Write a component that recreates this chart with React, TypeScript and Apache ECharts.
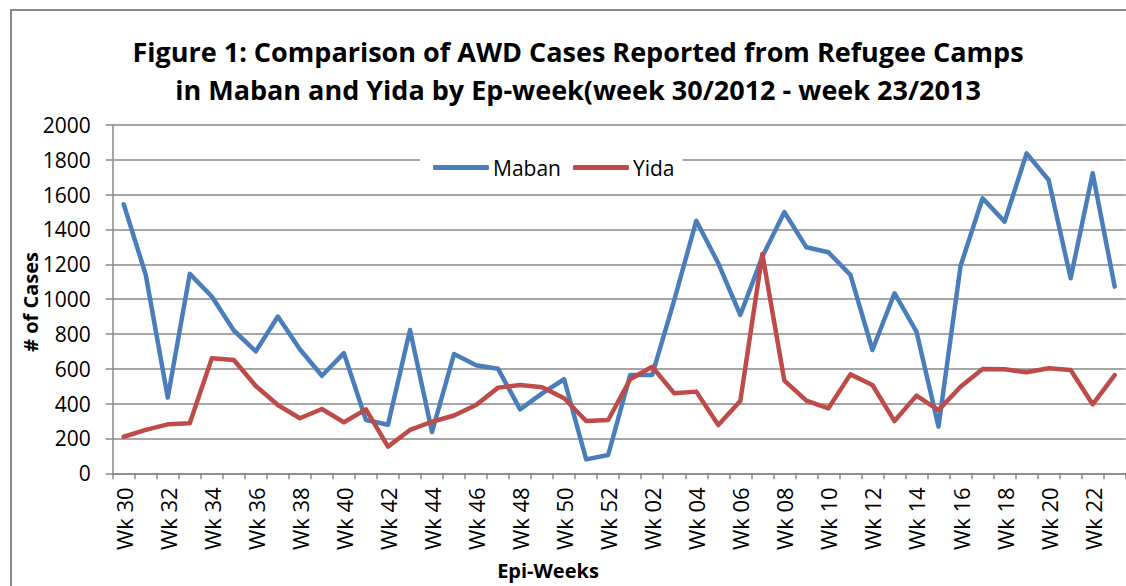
import React, { useEffect, useRef } from "react";
import * as echarts from "echarts";

const weeks2012 = ["30","31","32","33","34","35","36","37","38","39","40","41","42","43","44","45","46","47","48","49","50","51","52"];
const weeks2013 = ["01","02","03","04","05","06","07","08","09","10","11","12","13","14","15","16","17","18","19","20","21","22","23"];
const categories = [...weeks2012, ...weeks2013].map((w) => "Wk " + w);

const maban = [1545,1140,435,1145,1015,820,700,900,712,560,690,306,279,823,237,685,620,600,367,459,540,80,105,565,565,995,1450,1206,909,1244,1500,1298,1269,1139,708,1034,813,268,1190,1579,1445,1837,1684,1120,1723,1072];
const yida = [210,249,281,287,660,651,501,392,316,369,293,367,153,249,296,332,392,492,507,494,431,300,306,540,612,459,469,277,415,1259,532,417,373,568,507,300,446,363,497,599,597,580,603,593,396,564];

const titleText = "Figure 1: Comparison of AWD Cases Reported from Refugee Camps\nin Maban and Yida by Ep-week(week 30/2012 - week 23/2013";
const FONT = "'Open Sans', sans-serif";

export default function App() {
  const ref = useRef<HTMLDivElement>(null);
  useEffect(() => {
    if (!ref.current) return;
    const chart = echarts.init(ref.current, undefined, { renderer: "svg" });
    chart.setOption({
      animation: false,
      backgroundColor: "#ffffff",
      textStyle: { fontFamily: FONT },
      title: {
        text: titleText,
        left: 573,
        textAlign: "center",
        top: 27,
        textStyle: { fontFamily: FONT, fontSize: 27, fontWeight: "bold", color: "#000", lineHeight: 38 },
      },
      graphic: [
        { type: "rect", shape: { x: 11, y: 10, width: 1200, height: 700 }, style: { fill: "none", stroke: "#888888", lineWidth: 2 }, silent: true, z: -1 },
        { type: "text", x: 548, y: 570, style: { text: "Epi-Weeks", fontFamily: FONT, fontSize: 20, fontWeight: "bold", fill: "#000", align: "center", verticalAlign: "middle" } },
        { type: "text", x: 30, y: 302, rotation: Math.PI / 2, style: { text: "# of Cases", fontFamily: FONT, fontSize: 20, fontWeight: "bold", fill: "#000", align: "center", verticalAlign: "middle" } },
      ],
      legend: {
        left: 420,
        top: 153,
        padding: [4, 8, 4, 13],
        backgroundColor: "#ffffff",
        itemWidth: 56,
        itemHeight: 5,
        itemGap: 12,
        icon: "roundRect",
        textStyle: { fontFamily: FONT, fontSize: 21, color: "#000", padding: [0, 0, 0, -1] },
        data: ["Maban", "Yida"],
      },
      grid: { left: 112.7, right: 0.3, top: 125, bottom: 112.7, containLabel: false },
      xAxis: {
        type: "category",
        data: categories,
        boundaryGap: true,
        axisLine: { lineStyle: { color: "#888888", width: 1.5 } },
        axisTick: { show: true, interval: 0, length: 6, lineStyle: { color: "#888888", width: 1.5 } },
        axisLabel: { interval: 1, rotate: 90, fontFamily: FONT, fontSize: 22, color: "#000", margin: 14 },
        splitLine: { show: false },
      },
      yAxis: {
        type: "value",
        min: 0,
        max: 2000,
        interval: 200,
        axisLine: { show: true, lineStyle: { color: "#888888", width: 1.5 } },
        axisTick: { show: true, length: 7, lineStyle: { color: "#888888", width: 1.5 } },
        axisLabel: { fontFamily: FONT, fontSize: 21, color: "#000", margin: 22, formatter: (v: number) => String(v) },
        splitLine: { show: true, lineStyle: { color: "#888888", width: 1.5 } },
      },
      series: [
        {
          name: "Maban",
          type: "line",
          data: maban,
          symbol: "none",
          color: "#4a7ebb",
          lineStyle: { width: 4.5, color: "#4a7ebb", cap: "round", join: "round" },
          z: 2,
        },
        {
          name: "Yida",
          type: "line",
          data: yida,
          symbol: "none",
          color: "#be4b48",
          lineStyle: { width: 4.5, color: "#be4b48", cap: "round", join: "round" },
          z: 3,
        },
      ],
    });
    return () => chart.dispose();
  }, []);
  return <div ref={ref} style={{ position: "fixed", left: 0, top: 0, width: 1126, height: 586 }} />;
}
